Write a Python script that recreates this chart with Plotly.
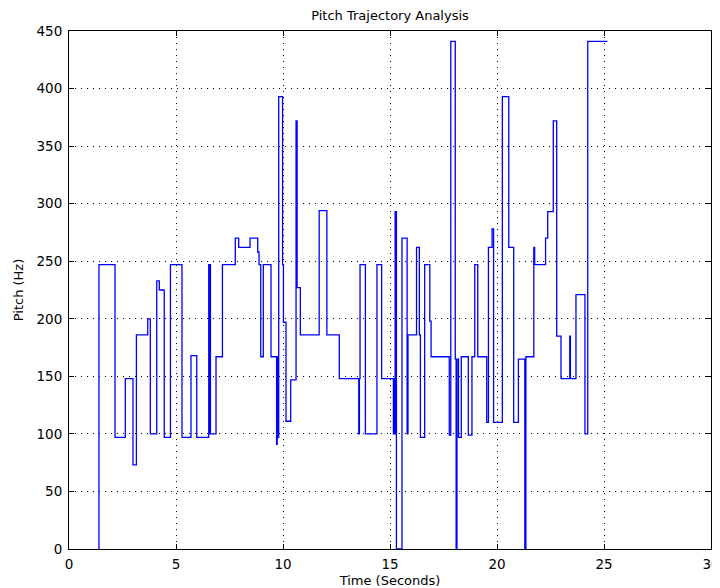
import plotly.graph_objects as go

# Step change times (seconds) and pitch levels (Hz) held from each time
change_times = [1.38, 1.40, 2.15, 2.63, 2.99, 3.15, 3.68, 3.80, 4.10, 4.22,
                4.45, 4.74, 5.28, 5.70, 5.97, 6.53, 6.56, 6.58, 6.61, 6.87,
                7.17, 7.77, 7.93, 8.46, 8.82, 8.88, 8.96, 9.08, 9.44, 9.70,
                9.73, 9.75, 9.80, 9.98, 10.02, 10.14, 10.36, 10.61, 10.66, 10.81,
                11.69, 12.05, 12.63, 13.54, 13.57, 13.60, 13.85, 14.39, 14.61, 15.16,
                15.19, 15.21, 15.24, 15.30, 15.56, 15.80, 15.84, 16.24, 16.37, 16.42,
                16.62, 16.86, 16.92, 17.77, 17.84, 18.05, 18.09, 18.13, 18.20, 18.33,
                18.66, 18.83, 18.96, 19.10, 19.52, 19.60, 19.77, 19.84, 20.25, 20.55,
                20.78, 21.00, 21.30, 21.35, 21.72, 21.76, 22.27, 22.37, 22.63, 22.79,
                22.99, 23.40, 23.43, 23.69, 24.11, 24.24]
pitch_hz = [0, 247, 97, 148, 73, 186, 200, 100, 233, 225,
            97, 247, 97, 168, 97, 247, 100, 247, 100, 167,
            247, 270, 262, 270, 258, 247, 167, 247, 167, 91,
            167, 97, 393, 247, 197, 111, 147, 372, 227, 186,
            294, 186, 148, 100, 148, 247, 100, 247, 148, 100,
            148, 100, 293, 0, 270, 100, 186, 262, 186, 97,
            247, 198, 167, 99, 441, 165, 0, 165, 97, 167,
            99, 167, 247, 167, 110, 262, 278, 110, 393, 262,
            110, 165, 0, 167, 262, 247, 270, 293, 372, 185,
            148, 185, 148, 221, 100, 441]
end_time = 25.16

x_ticks = [0, 5, 10, 15, 20, 25, 30]
y_ticks = [0, 50, 100, 150, 200, 250, 300, 350, 400, 450]

xs = change_times + [end_time]
ys = pitch_hz + [pitch_hz[-1]]

fig = go.Figure()
fig.add_trace(go.Scatter(x=xs, y=ys, mode="lines", line_shape="hv",
                         line=dict(color="#0000ff", width=1.3), showlegend=False,
                         hoverinfo="x+y"))

font_family = "DejaVu Sans, Liberation Sans, Arial, sans-serif"
tick_font = dict(family=font_family, size=13.5, color="black")
axis_common = dict(
    showline=True, linecolor="black", linewidth=1, mirror="ticks",
    ticks="inside", ticklen=5, tickcolor="black", automargin=False,
    showgrid=True, gridcolor="black", gridwidth=1, griddash="1px,5px",
    zeroline=False, tickfont=tick_font, ticklabeloverflow="allow",
)

# The page body has an 8px default margin, so the figure is sized to fit the window.
W, H = 712, 580

fig.update_layout(
    width=W, height=H,
    margin=dict(l=61, r=9, t=23, b=39),
    paper_bgcolor="white", plot_bgcolor="white",
    title=dict(text="Pitch Trajectory Analysis", x=(61 + W - 9) / 2 / W, xanchor="center",
               y=1 - 7 / H, yanchor="middle",
               font=dict(family=font_family, size=13, color="black")),
    xaxis=dict(range=[0, 30], tickvals=x_ticks, ticktext=[str(v) for v in x_ticks],
               ticklabelstandoff=3,
               title=dict(text="Time (Seconds)", standoff=4,
                          font=dict(family=font_family, size=13, color="black")),
               **axis_common),
    yaxis=dict(range=[0, 450], tickvals=y_ticks, ticktext=[str(v) for v in y_ticks],
               ticklabelstandoff=3,
               title=dict(text="Pitch (Hz)", standoff=9,
                          font=dict(family=font_family, size=13, color="black")),
               **axis_common),
)

fig.write_html("out.html")
